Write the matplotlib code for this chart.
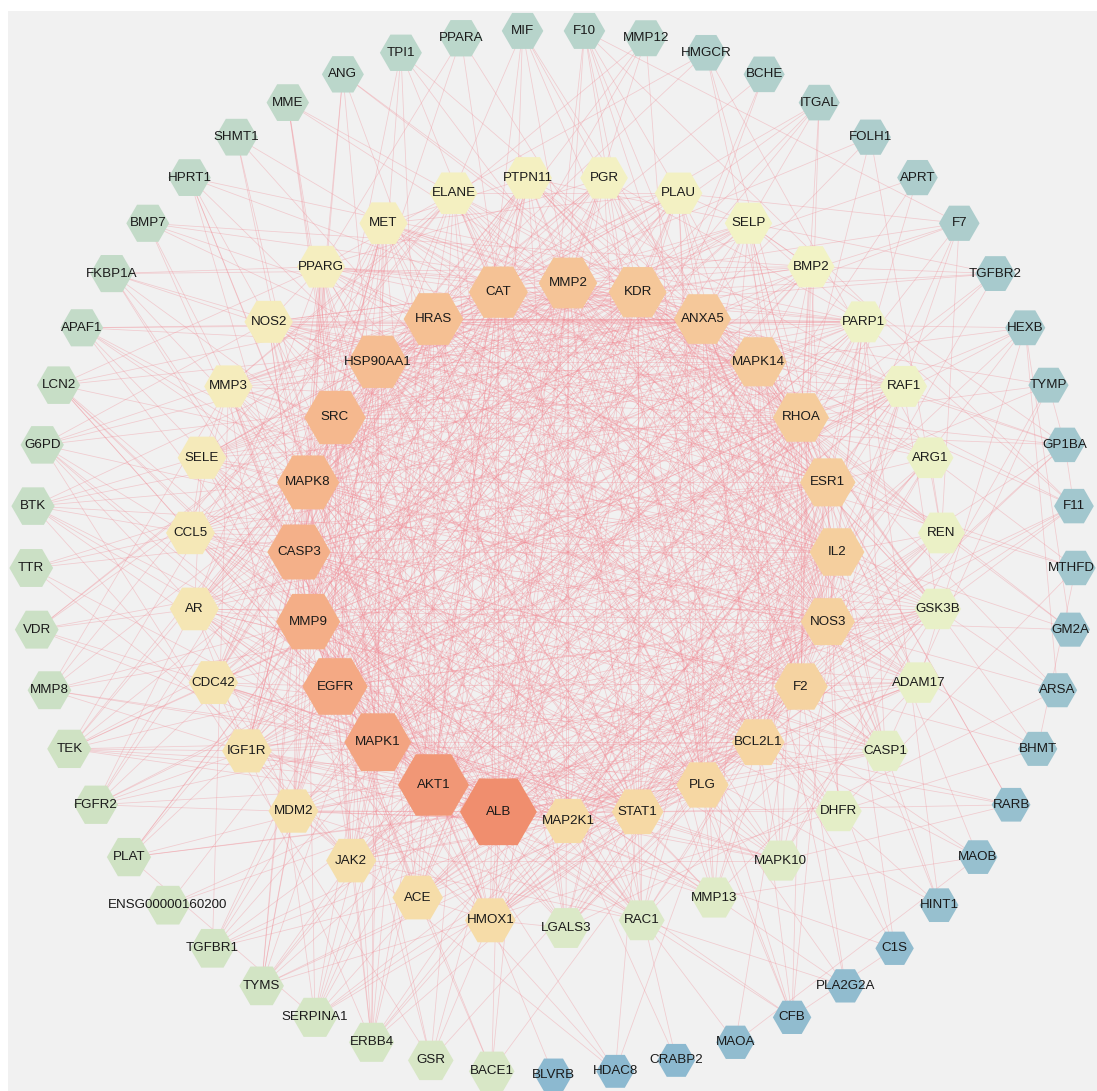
import numpy as np
import matplotlib.pyplot as plt
from matplotlib.patches import RegularPolygon, Rectangle
from matplotlib.collections import LineCollection
from matplotlib.colors import LinearSegmentedColormap

plt.rcParams['font.family'] = ['Liberation Sans', 'DejaVu Sans']

# nodes of each ring, in layout order (clockwise), with their degree
inner_genes = ['ALB', 'AKT1', 'MAPK1', 'EGFR', 'MMP9', 'CASP3', 'MAPK8', 'SRC',
               'HSP90AA1', 'HRAS', 'CAT', 'MMP2', 'KDR', 'ANXA5', 'MAPK14', 'RHOA',
               'ESR1', 'IL2', 'NOS3', 'F2', 'BCL2L1', 'PLG', 'STAT1', 'MAP2K1']
inner_degree = [74, 70, 64, 62, 60, 59, 57, 56, 54, 53, 52, 51, 50, 49, 48, 47,
                46, 45, 44, 43, 42, 41, 40, 39]

middle_genes = ['HMOX1', 'ACE', 'JAK2', 'MDM2', 'IGF1R', 'CDC42', 'AR', 'CCL5',
                'SELE', 'MMP3', 'NOS2', 'PPARG', 'MET', 'ELANE', 'PTPN11', 'PGR',
                'PLAU', 'SELP', 'BMP2', 'PARP1', 'RAF1', 'ARG1', 'REN', 'GSK3B',
                'ADAM17', 'CASP1', 'DHFR', 'MAPK10', 'MMP13', 'RAC1', 'LGALS3']
middle_degree = [38, 37, 36, 35, 34, 33, 32, 31, 30, 29, 29, 28, 28, 27, 27, 26,
                 26, 25, 25, 24, 24, 23, 23, 22, 22, 21, 21, 20, 20, 19, 19]

outer_genes = ['BACE1', 'GSR', 'ERBB4', 'SERPINA1', 'TYMS', 'TGFBR1',
               'ENSG00000160200', 'PLAT', 'FGFR2', 'TEK', 'MMP8', 'VDR', 'TTR',
               'BTK', 'G6PD', 'LCN2', 'APAF1', 'FKBP1A', 'BMP7', 'HPRT1', 'SHMT1',
               'MME', 'ANG', 'TPI1', 'PPARA', 'MIF', 'F10', 'MMP12', 'HMGCR',
               'BCHE', 'ITGAL', 'FOLH1', 'APRT', 'F7', 'TGFBR2', 'HEXB', 'TYMP',
               'GP1BA', 'F11', 'MTHFD', 'GM2A', 'ARSA', 'BHMT', 'RARB', 'MAOB',
               'HINT1', 'C1S', 'PLA2G2A', 'CFB', 'MAOA', 'CRABP2', 'HDAC8', 'BLVRB']
outer_degree = [18, 18, 17, 17, 16, 16, 16, 15, 15, 15, 14, 14, 14, 13, 13, 13,
                12, 12, 12, 11, 11, 11, 10, 10, 10, 9, 9, 9, 8, 8, 8, 7, 7, 7,
                6, 6, 6, 5, 5, 5, 4, 4, 4, 3, 3, 3, 2, 2, 2, 2, 1, 1, 1]

# interactions: each line is a node followed by its partners
interactions = """
ALB: AKT1 MAPK1 EGFR MMP9 CASP3 MAPK8 SRC HSP90AA1 HRAS CAT MMP2 KDR ANXA5 MAPK14 RHOA ESR1 IL2 NOS3 F2 BCL2L1 PLG STAT1 MAP2K1 HMOX1 ACE JAK2 MDM2 IGF1R AR CCL5 SELE MMP3 NOS2 PPARG ELANE PGR PLAU SELP REN CASP1 LGALS3 BACE1 GSR SERPINA1 TGFBR1 PLAT TTR VDR G6PD LCN2 MIF F10 BCHE F7 F11 GP1BA CFB C1S APRT
AKT1: MAPK1 EGFR MMP9 CASP3 MAPK8 SRC HSP90AA1 HRAS CAT MMP2 KDR MAPK14 RHOA ESR1 IL2 NOS3 BCL2L1 STAT1 MAP2K1 HMOX1 JAK2 MDM2 IGF1R CDC42 AR CCL5 PPARG MET PTPN11 PGR PARP1 RAF1 GSK3B ADAM17 CASP1 MAPK10 RAC1 ERBB4 TYMS TGFBR1 FGFR2 TEK BTK G6PD APAF1 FKBP1A BMP7 HPRT1 TPI1 MIF TGFBR2 HDAC8 ENSG00000160200
MAPK1: EGFR MMP9 CASP3 MAPK8 SRC HSP90AA1 HRAS MMP2 KDR ANXA5 MAPK14 RHOA ESR1 IL2 NOS3 F2 BCL2L1 STAT1 MAP2K1 HMOX1 JAK2 MDM2 IGF1R CDC42 AR CCL5 SELE MMP3 PPARG MET PTPN11 PGR SELP BMP2 PARP1 RAF1 GSK3B ADAM17 MAPK10 MMP13 RAC1 ERBB4 FGFR2 TEK MMP8 LCN2 BMP7 SHMT1 MME TGFBR2
EGFR: MMP9 CASP3 MAPK8 SRC HSP90AA1 HRAS CAT MMP2 KDR ANXA5 MAPK14 RHOA ESR1 IL2 NOS3 BCL2L1 STAT1 MAP2K1 JAK2 MDM2 IGF1R CDC42 AR MMP3 PPARG MET PTPN11 PGR PLAU BMP2 PARP1 RAF1 GSK3B ADAM17 RAC1 LGALS3 ERBB4 TGFBR1 FGFR2 TEK ITGAL FOLH1 HEXB TYMP RARB
MMP9: CASP3 MAPK8 SRC HSP90AA1 HRAS CAT MMP2 KDR ANXA5 MAPK14 RHOA ESR1 IL2 NOS3 F2 BCL2L1 PLG STAT1 HMOX1 ACE JAK2 MDM2 IGF1R AR CCL5 SELE MMP3 NOS2 PPARG MET ELANE PLAU SELP BMP2 ADAM17 CASP1 MMP13 LGALS3 BACE1 SERPINA1 PLAT TEK MMP8 LCN2 MMP12 ITGAL HEXB PLA2G2A
CASP3: MAPK8 SRC HSP90AA1 HRAS CAT MMP2 KDR ANXA5 MAPK14 RHOA ESR1 IL2 NOS3 F2 BCL2L1 PLG STAT1 MAP2K1 HMOX1 ACE MDM2 IGF1R CDC42 AR CCL5 SELE NOS2 PPARG MET PGR PARP1 RAF1 GSK3B CASP1 DHFR MAPK10 RAC1 LGALS3 GSR TYMS APAF1 FKBP1A HPRT1 ANG TPI1 MIF BHMT HINT1
MAPK8: SRC HSP90AA1 HRAS CAT MMP2 KDR ANXA5 MAPK14 RHOA ESR1 IL2 NOS3 BCL2L1 STAT1 MAP2K1 HMOX1 JAK2 MDM2 IGF1R CDC42 AR CCL5 SELE MMP3 NOS2 PPARG MET PTPN11 PARP1 RAF1 GSK3B ADAM17 CASP1 MAPK10 MMP13 RAC1 TYMS TTR BTK APAF1 FKBP1A SHMT1 ANG ARSA
SRC: HSP90AA1 HRAS CAT MMP2 KDR ANXA5 MAPK14 RHOA ESR1 IL2 NOS3 F2 BCL2L1 STAT1 MAP2K1 JAK2 MDM2 IGF1R CDC42 AR MMP3 PPARG MET PTPN11 PGR SELP PARP1 RAF1 GSK3B ADAM17 MAPK10 RAC1 ERBB4 FGFR2 TEK BTK VDR MME PPARA F7 GP1BA MAOB
HSP90AA1: HRAS CAT MMP2 KDR ANXA5 MAPK14 RHOA ESR1 IL2 NOS3 BCL2L1 PLG STAT1 MAP2K1 HMOX1 JAK2 MDM2 IGF1R CDC42 AR PPARG MET PTPN11 PGR PARP1 RAF1 GSK3B ADAM17 CASP1 DHFR MAPK10 RAC1 ERBB4 TYMS G6PD FKBP1A HPRT1 TPI1 HMGCR APRT MTHFD
HRAS: CAT MMP2 KDR ANXA5 MAPK14 RHOA ESR1 IL2 NOS3 F2 BCL2L1 STAT1 MAP2K1 JAK2 MDM2 IGF1R CDC42 AR MMP3 PPARG MET PTPN11 PLAU BMP2 PARP1 RAF1 GSK3B ADAM17 MAPK10 RAC1 LGALS3 ERBB4 FGFR2 TEK BTK VDR BMP7 ANG MMP12 TGFBR2 HEXB
CAT: MMP2 KDR ANXA5 MAPK14 RHOA ESR1 IL2 NOS3 F2 BCL2L1 PLG STAT1 HMOX1 ACE MDM2 AR CCL5 SELE MMP3 NOS2 PPARG ELANE PGR PLAU SELP PARP1 ARG1 REN CASP1 DHFR MMP13 LGALS3 GSR SERPINA1 TYMS G6PD LCN2 HPRT1 SHMT1 TPI1 PPARA BCHE FOLH1 TYMP CRABP2
MMP2: KDR ANXA5 MAPK14 RHOA ESR1 IL2 NOS3 F2 BCL2L1 PLG STAT1 MAP2K1 HMOX1 ACE IGF1R AR CCL5 SELE MMP3 NOS2 PPARG MET ELANE PTPN11 PGR PLAU SELP BMP2 ARG1 REN ADAM17 CASP1 MMP13 RAC1 LGALS3 BACE1 SERPINA1 TGFBR1 PLAT MMP8 MME MIF F10 MMP12 ITGAL F7 GP1BA F11 CFB
KDR: ANXA5 MAPK14 RHOA ESR1 IL2 NOS3 F2 BCL2L1 PLG STAT1 MAP2K1 HMOX1 ACE JAK2 IGF1R CDC42 AR CCL5 SELE MMP3 NOS2 PPARG MET PTPN11 PLAU SELP BMP2 PARP1 RAF1 REN GSK3B ADAM17 RAC1 TGFBR1 ENSG00000160200 FGFR2 TEK BMP7 ANG F10 TGFBR2 GM2A
ANXA5: MAPK14 RHOA ESR1 IL2 NOS3 F2 BCL2L1 PLG STAT1 HMOX1 ACE CCL5 SELE MMP3 NOS2 ELANE PGR PLAU SELP BMP2 PARP1 ARG1 REN CASP1 LGALS3 SERPINA1 PLAT LCN2 APAF1 MIF F10 F7 GP1BA F11 ARSA CFB HINT1 PLA2G2A
MAPK14: RHOA ESR1 IL2 NOS3 F2 BCL2L1 STAT1 MAP2K1 HMOX1 JAK2 MDM2 IGF1R CDC42 AR CCL5 SELE MMP3 NOS2 PPARG MET PTPN11 BMP2 PARP1 RAF1 GSK3B ADAM17 CASP1 MAPK10 MMP13 RAC1 TYMS BTK G6PD APAF1 MME TPI1 HEXB RARB BHMT
RHOA: ESR1 IL2 NOS3 F2 BCL2L1 PLG STAT1 MAP2K1 JAK2 IGF1R CDC42 AR CCL5 SELE MMP3 NOS2 MET PTPN11 PGR PLAU SELP BMP2 PARP1 RAF1 GSK3B ADAM17 MAPK10 RAC1 LGALS3 ERBB4 TEK ITGAL FOLH1 TYMP GP1BA MAOB
ESR1: IL2 NOS3 F2 BCL2L1 PLG STAT1 MAP2K1 HMOX1 JAK2 MDM2 IGF1R AR CCL5 NOS2 PPARG MET PTPN11 PGR PARP1 RAF1 ARG1 GSK3B CASP1 DHFR LGALS3 ERBB4 TYMS TTR VDR FKBP1A HMGCR APRT MTHFD RARB HDAC8 MAOA
IL2: NOS3 F2 BCL2L1 PLG STAT1 MAP2K1 HMOX1 ACE JAK2 MDM2 IGF1R CDC42 CCL5 SELE MMP3 NOS2 PPARG ELANE PTPN11 SELP PARP1 ARG1 REN CASP1 MMP13 LGALS3 BTK MMP8 LCN2 BMP7 TGFBR2 GM2A C1S CFB
NOS3: F2 BCL2L1 PLG STAT1 MAP2K1 HMOX1 ACE JAK2 IGF1R AR CCL5 SELE NOS2 PPARG MET ELANE PGR PLAU SELP BMP2 PARP1 RAF1 ARG1 REN GSK3B ADAM17 CASP1 DHFR RAC1 GSR SERPINA1 G6PD TPI1 PPARA HMGCR F11 GM2A BHMT
F2: BCL2L1 PLG STAT1 HMOX1 ACE CCL5 SELE MMP3 NOS2 ELANE PGR PLAU SELP BMP2 ARG1 REN ADAM17 CASP1 LGALS3 SERPINA1 PLAT ENSG00000160200 MIF F10 ITGAL F7 GP1BA F11 C1S PLA2G2A CFB
BCL2L1: PLG STAT1 MAP2K1 HMOX1 JAK2 MDM2 IGF1R CDC42 AR PPARG MET PTPN11 PARP1 RAF1 GSK3B ADAM17 CASP1 MAPK10 MMP13 RAC1 LGALS3 TYMS APAF1 FKBP1A HINT1 MAOB
PLG: STAT1 MAP2K1 HMOX1 ACE CCL5 SELE MMP3 NOS2 ELANE PGR PLAU SELP BMP2 REN CASP1 MMP13 LGALS3 BACE1 SERPINA1 PLAT TEK MMP8 F10 MMP12 F7 GP1BA F11 CFB PLA2G2A
STAT1: MAP2K1 HMOX1 JAK2 MDM2 IGF1R CDC42 AR CCL5 SELE NOS2 PPARG MET PTPN11 PGR PARP1 RAF1 GSK3B ADAM17 CASP1 DHFR MAPK10 RAC1 ERBB4 VDR G6PD BTK TYMS HDAC8 RARB
MAP2K1: JAK2 MDM2 IGF1R CDC42 MET PTPN11 PARP1 RAF1 GSK3B ADAM17 MAPK10 MMP13 RAC1 ERBB4 FGFR2 TEK BTK LCN2 MAOA CRABP2
HMOX1: ACE NOS2 PPARG ARG1 REN LGALS3 GSR G6PD BLVRB HPRT1 TTR
ACE: ELANE REN PLAU SELE ARG1 MMP3 BACE1 ANG MME TGFBR1 HEXB BCHE
JAK2: MDM2 IGF1R CDC42 PTPN11 RAF1 GSK3B MAPK10 RAC1 BTK ERBB4 TYMS
MDM2: IGF1R AR PARP1 GSK3B RAC1 HDAC8 TYMS
IGF1R: CDC42 AR PPARG MET PTPN11 GSK3B RAF1 FGFR2 TEK ERBB4
CDC42: MET PTPN11 RAF1 RAC1 MAPK10 SELP TEK
AR: PGR PPARG SELE GSK3B HDAC8 VDR RARB
CCL5: SELE SELP ELANE MMP3 CASP1 LCN2 BTK TTR
SELE: SELP ELANE PLAU MMP3 ITGAL
MMP3: PLAU ELANE MMP13 ADAM17 TGFBR1 SERPINA1 MMP8 MMP12
NOS2: ARG1 PPARG CASP1 PARP1 G6PD HPRT1 GSR
PPARG: PGR PARP1 LCN2 FKBP1A HMGCR PPARA
MET: PTPN11 PLAU RAF1 GSK3B TEK FGFR2
ELANE: PLAU SERPINA1 LGALS3 MMP8 CFB C1S
PTPN11: RAF1 GSK3B ERBB4 TGFBR2
PGR: PARP1 VDR MIF
PLAU: SELP MMP13 SERPINA1 PLAT F10 F7
SELP: BMP2 LGALS3 GP1BA F11 ITGAL
BMP2: TGFBR1 BMP7 TGFBR2 FKBP1A
PARP1: CASP1 HPRT1 APAF1 HINT1
RAF1: GSK3B MAPK10 FGFR2
ARG1: REN HMGCR MTHFD
REN: F7 ANG FOLH1 GM2A
GSK3B: MAPK10 RAC1 ARSA
ADAM17: MMP13 TGFBR1 HEXB
CASP1: APAF1 HINT1 TYMP
DHFR: TYMS SHMT1 MTHFD BHMT
MAPK10: RARB TYMP
MMP13: MMP8 MAOB
RAC1: PLA2G2A CFB
LGALS3: HEXB ARSA
GSR: G6PD
PLAT: SERPINA1
F10: F7 F11
HEXB: GM2A ARSA
F11: GP1BA
TYMP: GP1BA
BHMT: MTHFD
MAOA: MAOB
C1S: CFB
"""

edges = set()
for line in interactions.strip().splitlines():
    src, rest = line.split(':')
    for dst in rest.split():
        edges.add(tuple(sorted((src.strip(), dst))))

# concentric ring layout: centre, radius, angle of first node (screen degrees)
rings = [
    (inner_genes, inner_degree, (568, 552), 269, 105.0),
    (middle_genes, middle_degree, (566, 552), 376, 90 + 360 / 31),
    (outer_genes, outer_degree, (553.5, 552.5), 522.5, 90 + 360 / 53),
]

pos = {}
deg = {}
for genes, degrees, (cx, cy), r, start in rings:
    n = len(genes)
    for k, (g, d) in enumerate(zip(genes, degrees)):
        a = np.deg2rad(start + 360.0 * k / n)
        pos[g] = (cx + r * np.cos(a), cy + r * np.sin(a))
        deg[g] = d

# colour by degree: blue -> green -> yellow -> orange -> red
stops = [(1, '#8cb9d0'), (6, '#a8cacd'), (10, '#bcd7cb'), (15, '#cfe2c3'),
         (19, '#dbe9c7'), (22, '#e8f0c7'), (25, '#f2f3c5'), (28, '#f5eebf'),
         (31, '#f5e8b7'), (35, '#f5e0ac'), (39, '#f6dba6'), (45, '#f5cf9e'),
         (50, '#f5c799'), (55, '#f5bb90'), (60, '#f4ae87'), (65, '#f3a27f'),
         (74, '#f08e6e')]
lo, hi = stops[0][0], stops[-1][0]
cmap = LinearSegmentedColormap.from_list(
    'deg', [((v - lo) / (hi - lo), c) for v, c in stops])

W, H = 1097, 1091
fig = plt.figure(figsize=(W / 100, H / 100), dpi=100)
ax = fig.add_axes([0, 0, 1, 1])
ax.set_xlim(0, W)
ax.set_ylim(H, 0)
ax.axis('off')

ax.add_patch(Rectangle((8, 11), W - 8, H - 11, facecolor='#f1f1f1',
                       edgecolor='none', zorder=0))

segs = [(pos[a], pos[b]) for a, b in sorted(edges)]
ax.add_collection(LineCollection(segs, colors='#f08c96', linewidths=0.55,
                                 alpha=0.38, zorder=1))

labels = []
for g in pos:
    d = deg[g]
    width = np.interp(d, [1, 10, 19, 39, 50, 60, 70, 74],
                      [38, 42, 46, 51, 58, 64, 71, 77])
    ax.add_patch(RegularPolygon(pos[g], numVertices=6, radius=width / 2,
                                orientation=np.pi / 6,
                                facecolor=cmap((d - lo) / (hi - lo)),
                                edgecolor='none', zorder=2))
    labels.append(ax.text(pos[g][0], pos[g][1], g, ha='center', va='center',
                          fontsize=9.6, color='#1a1a1a', zorder=3))

# keep labels at the right edge inside the picture
fig.canvas.draw()
renderer = fig.canvas.get_renderer()
for t in labels:
    bb = t.get_window_extent(renderer)
    if bb.x1 > W - 2:
        x, y = t.get_position()
        t.set_position((x - (bb.x1 - (W - 2)), y))

fig.savefig('out.png', dpi=100)
